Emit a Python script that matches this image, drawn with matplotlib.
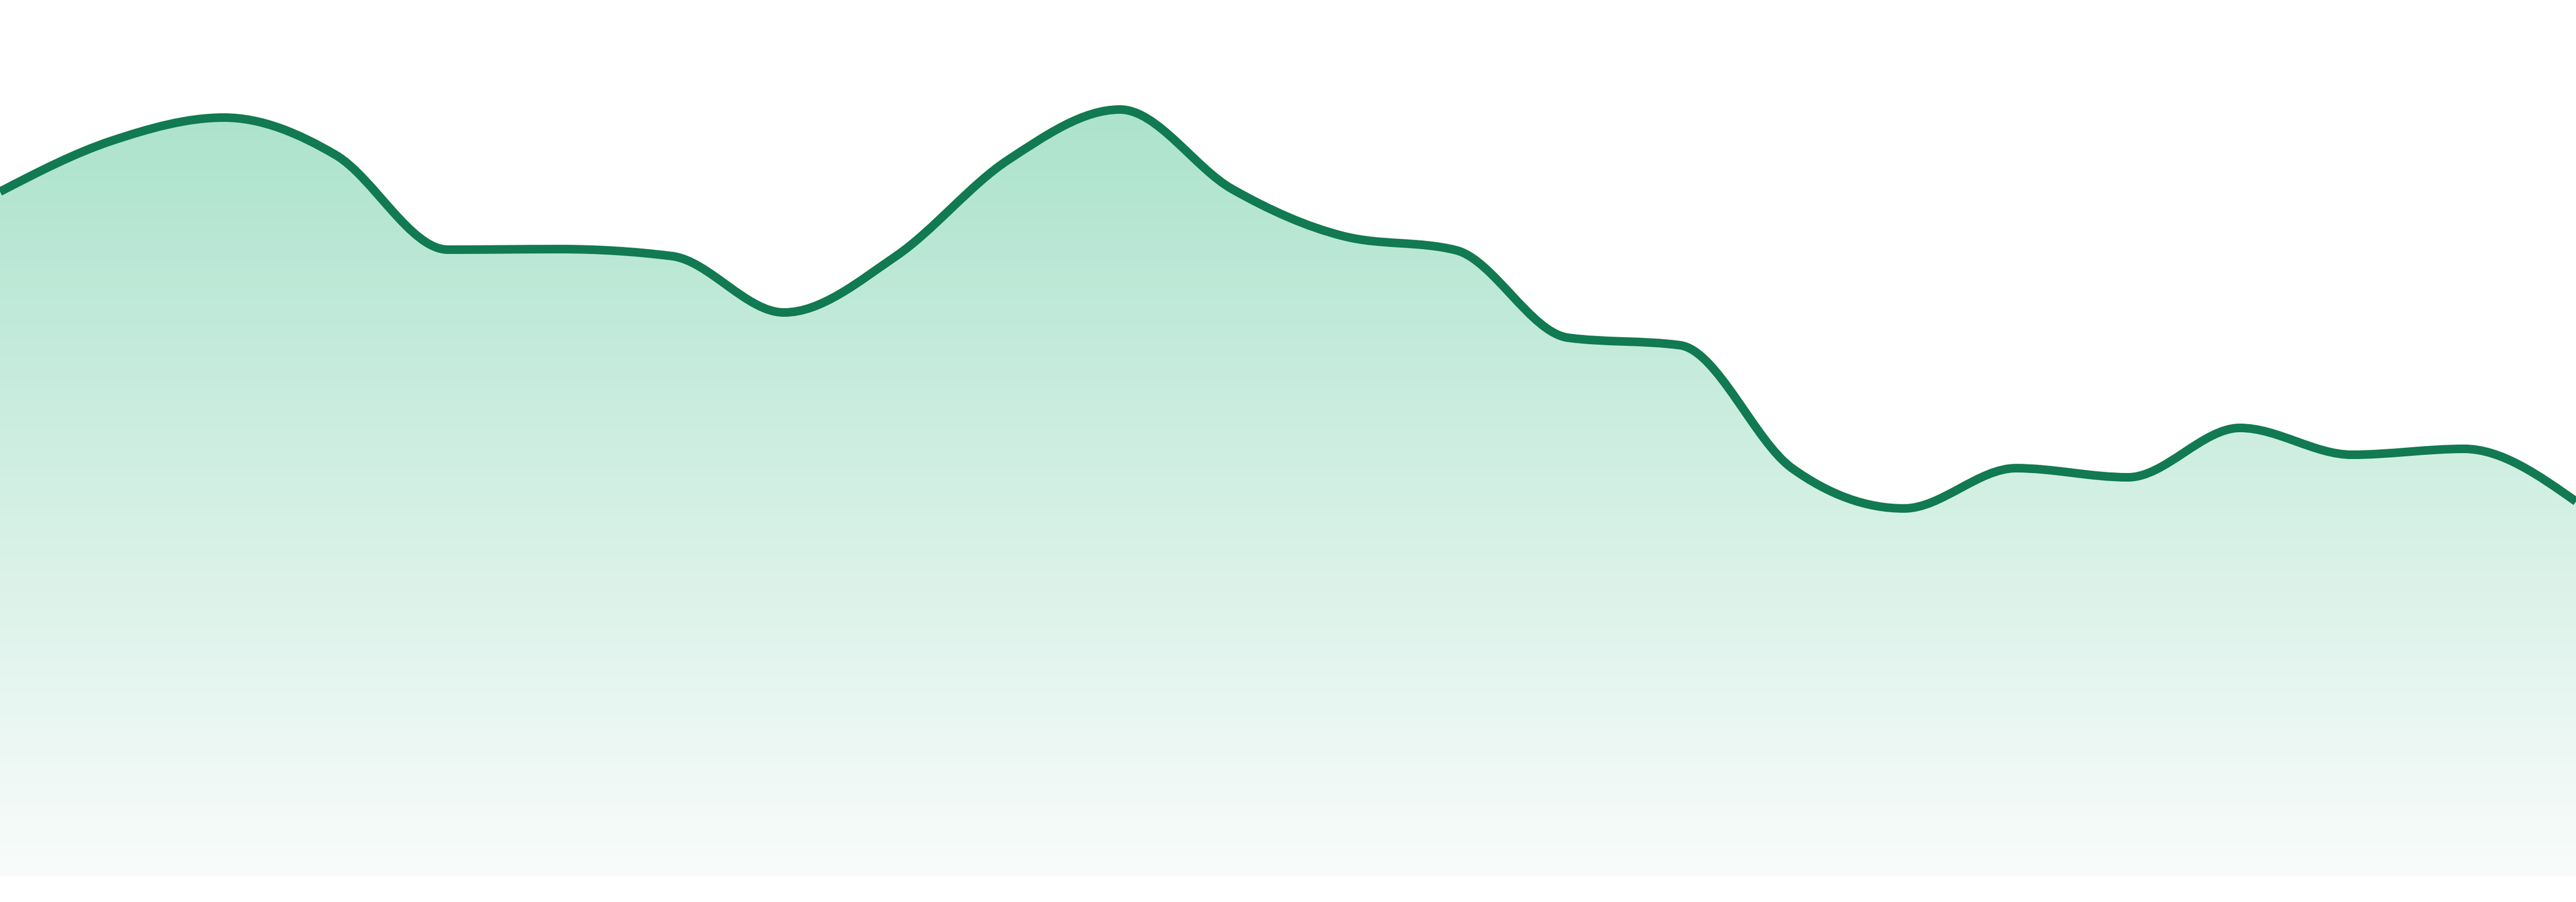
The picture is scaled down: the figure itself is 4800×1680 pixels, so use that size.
import numpy as np
import matplotlib
matplotlib.use("Agg")
import matplotlib.pyplot as plt
from matplotlib.path import Path
from matplotlib.patches import PathPatch

# ---- data ----
x_index = list(range(24))
values = [127.5, 137.0, 141.3, 134.3, 116.7, 116.8, 115.5, 105.0,
          115.5, 133.4, 142.8, 128.0, 119.2, 116.6, 100.3, 98.9,
          76.0, 68.5, 76.0, 74.3, 83.5, 78.5, 79.6, 69.8]

line_color = "#117a52"
grad_top = (172 / 255, 227 / 255, 205 / 255)
grad_bottom = (249 / 255, 252 / 255, 251 / 255)


def monotone_slopes(x, y):
    n = len(x)
    t = np.zeros(n)
    for i in range(1, n - 1):
        h0 = x[i] - x[i - 1]
        h1 = x[i + 1] - x[i]
        s0 = (y[i] - y[i - 1]) / h0
        s1 = (y[i + 1] - y[i]) / h1
        p = (s0 * h1 + s1 * h0) / (h0 + h1)
        t[i] = (np.sign(s0) + np.sign(s1)) * min(abs(s0), abs(s1), 0.5 * abs(p))
    t[0] = (3 * (y[1] - y[0]) / (x[1] - x[0]) - t[1]) / 2
    t[-1] = (3 * (y[-1] - y[-2]) / (x[-1] - x[-2]) - t[-2]) / 2
    return t


x = np.array(x_index, dtype=float)
y = np.array(values, dtype=float)
t = monotone_slopes(x, y)

verts = [(x[0], y[0])]
codes = [Path.MOVETO]
for i in range(len(x) - 1):
    dx = (x[i + 1] - x[i]) / 3
    verts += [(x[i] + dx, y[i] + dx * t[i]),
              (x[i + 1] - dx, y[i + 1] - dx * t[i + 1]),
              (x[i + 1], y[i + 1])]
    codes += [Path.CURVE4] * 3

line_path = Path(verts, codes)
fill_path = Path(verts + [(x[-1], 0), (x[0], 0), (x[0], y[0])],
                 codes + [Path.LINETO, Path.LINETO, Path.CLOSEPOLY])

fig = plt.figure(figsize=(16, 5.6), dpi=300)
ax = fig.add_axes([0, 0, 1, 1])
ax.set_xlim(x[0], x[-1])
ax.set_ylim(-4.8, 163.2)
ax.axis("off")

fill_patch = PathPatch(fill_path, facecolor="none", edgecolor="none")
ax.add_patch(fill_patch)

n = 512
frac = np.linspace(0, 1, n)[:, None]
grad = (1 - frac) * np.array(grad_top) + frac * np.array(grad_bottom)
grad = grad[:, None, :]
im = ax.imshow(grad, extent=[x[0], x[-1], 0, y.max()], aspect="auto",
               origin="upper", interpolation="bilinear", zorder=1)
im.set_clip_path(fill_patch)

ax.add_patch(PathPatch(line_path, facecolor="none", edgecolor=line_color,
                       linewidth=3.84, zorder=3, capstyle="butt", joinstyle="round"))

ax.set_xlim(x[0], x[-1])
ax.set_ylim(-4.8, 163.2)
fig.savefig("out.png", dpi=300, facecolor="white")
